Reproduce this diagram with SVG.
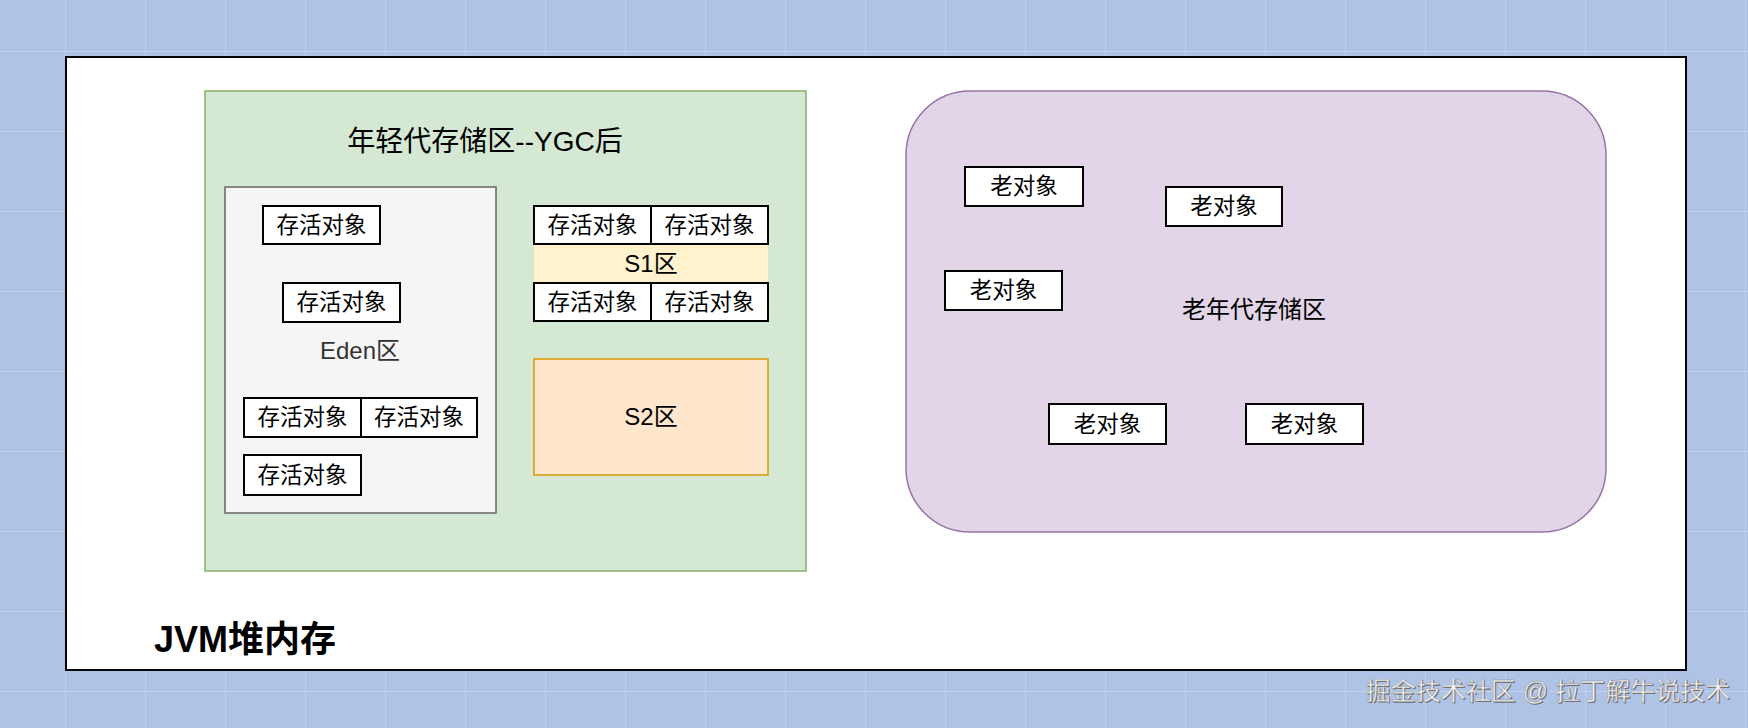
<svg xmlns="http://www.w3.org/2000/svg" width="1748" height="728" viewBox="0 0 1748 728">
  <defs>
    <pattern id="grid" x="65" y="51" width="80" height="80" patternUnits="userSpaceOnUse">
      <rect width="80" height="80" fill="#aec3e6"/>
      <path d="M0 0 H80 M0 0 V80" stroke="#c8d5ee" stroke-width="1.5" fill="none"/>
    </pattern>
    <style>
      .obj { fill: #ffffff; stroke: #000000; stroke-width: 2; }
      .t { font-family: "Liberation Sans", "Noto Sans CJK SC", sans-serif; text-anchor: middle; fill: #000000; }
      .ot { font-size: 22.5px; }
      .lbl { font-size: 24px; }
    </style>
  </defs>

  <rect x="0" y="0" width="1748" height="728" fill="url(#grid)"/>

  <g id="heap">
    <rect x="66" y="57" width="1620" height="613" fill="#ffffff" stroke="#000000" stroke-width="2"/>
    <text x="154" y="652" font-family="'Liberation Sans', 'Noto Sans CJK SC', sans-serif" font-size="36" font-weight="bold" fill="#000000">JVM堆内存</text>
  </g>

  <g id="young-gen">
    <rect x="205" y="91" width="601" height="480" fill="#d5e8d4" stroke="#82b366" stroke-width="1.5"/>
    <text class="t" x="485" y="151" font-size="28">年轻代存储区--YGC后</text>
  </g>

  <g id="eden">
    <rect x="225" y="187" width="271" height="326" fill="#f5f5f5" stroke="#666666" stroke-width="1.5"/>
    <text class="t lbl" x="360" y="359" style="fill:#333333">Eden区</text>
  </g>

  <g id="eden-obj-1">
    <rect class="obj" x="263" y="206" width="117" height="38"/>
    <text class="t ot" x="321.5" y="233">存活对象</text>
  </g>
  <g id="eden-obj-2">
    <rect class="obj" x="283" y="283" width="117" height="39"/>
    <text class="t ot" x="341.5" y="310">存活对象</text>
  </g>
  <g id="eden-obj-3">
    <rect class="obj" x="244" y="398" width="117" height="39"/>
    <text class="t ot" x="302.5" y="425">存活对象</text>
  </g>
  <g id="eden-obj-4">
    <rect class="obj" x="361" y="398" width="116" height="39"/>
    <text class="t ot" x="419" y="425">存活对象</text>
  </g>
  <g id="eden-obj-5">
    <rect class="obj" x="244" y="455" width="117" height="40"/>
    <text class="t ot" x="302.5" y="483">存活对象</text>
  </g>

  <g id="s1">
    <rect x="534" y="244" width="234" height="39" fill="#fff2cc"/>
    <text class="t lbl" x="651" y="272">S1区</text>
  </g>
  <g id="s1-obj-1">
    <rect class="obj" x="534" y="206" width="117" height="38"/>
    <text class="t ot" x="592.5" y="233">存活对象</text>
  </g>
  <g id="s1-obj-2">
    <rect class="obj" x="651" y="206" width="117" height="38"/>
    <text class="t ot" x="709.5" y="233">存活对象</text>
  </g>
  <g id="s1-obj-3">
    <rect class="obj" x="534" y="283" width="117" height="38"/>
    <text class="t ot" x="592.5" y="310">存活对象</text>
  </g>
  <g id="s1-obj-4">
    <rect class="obj" x="651" y="283" width="117" height="38"/>
    <text class="t ot" x="709.5" y="310">存活对象</text>
  </g>

  <g id="s2">
    <rect x="534" y="359" width="234" height="116" fill="#ffe6cc" stroke="#d79b00" stroke-width="1.5"/>
    <text class="t lbl" x="651" y="425">S2区</text>
  </g>

  <g id="old-gen">
    <rect x="906" y="91" width="700" height="441" rx="64" ry="64" fill="#e1d5e7" stroke="#9673a6" stroke-width="1.5"/>
    <text class="t lbl" x="1254" y="318">老年代存储区</text>
  </g>

  <g id="old-obj-1">
    <rect class="obj" x="965" y="167" width="118" height="39"/>
    <text class="t ot" x="1024" y="194">老对象</text>
  </g>
  <g id="old-obj-2">
    <rect class="obj" x="1166" y="187" width="116" height="39"/>
    <text class="t ot" x="1224" y="214">老对象</text>
  </g>
  <g id="old-obj-3">
    <rect class="obj" x="945" y="271" width="117" height="39"/>
    <text class="t ot" x="1003.5" y="298">老对象</text>
  </g>
  <g id="old-obj-4">
    <rect class="obj" x="1049" y="404" width="117" height="40"/>
    <text class="t ot" x="1107.5" y="432">老对象</text>
  </g>
  <g id="old-obj-5">
    <rect class="obj" x="1246" y="404" width="117" height="40"/>
    <text class="t ot" x="1304.5" y="432">老对象</text>
  </g>

  <g id="connectors"></g>

  <g id="watermark">
    <text x="1548" y="700" font-family="'Liberation Sans', 'Noto Sans CJK SC', sans-serif" font-size="25" text-anchor="middle" fill="#6b6b6b" transform="translate(1,1)">掘金技术社区 @ 拉丁解牛说技术</text>
    <text x="1548" y="700" font-family="'Liberation Sans', 'Noto Sans CJK SC', sans-serif" font-size="25" text-anchor="middle" fill="#f4f4f4" stroke="#8a8a8a" stroke-width="0.4">掘金技术社区 @ 拉丁解牛说技术</text>
  </g>
</svg>
